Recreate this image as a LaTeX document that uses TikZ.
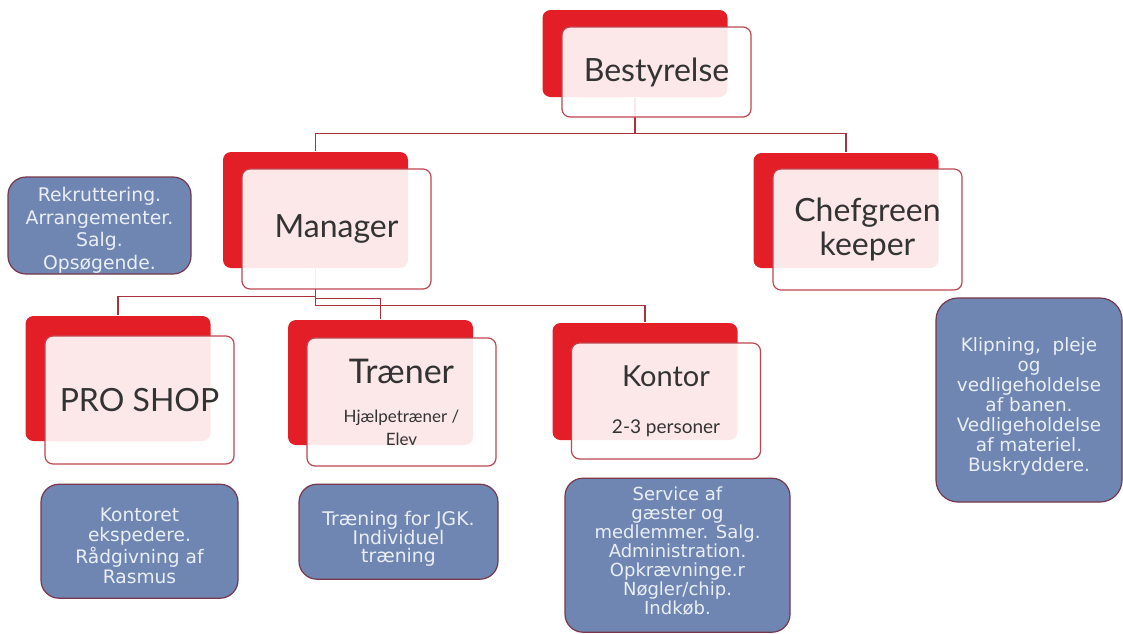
\documentclass[tikz,border=0pt]{standalone}
\usepackage{fontspec}
\setmainfont{Lato}
\newfontfamily\boxfont{DejaVu Sans}
\usetikzlibrary{positioning}

\definecolor{orgred}{RGB}{228,30,38}
\definecolor{edgered}{RGB}{190,70,80}
\definecolor{linkred}{RGB}{170,50,60}
\definecolor{infoblue}{RGB}{111,134,178}
\definecolor{infoedge}{RGB}{120,55,75}
\definecolor{infotext}{RGB}{234,238,246}

\begin{document}
\begin{tikzpicture}[x=0.5pt, y=-0.5pt,
back/.style={rectangle, rounded corners=4pt, fill=orgred,
minimum width=92.5pt, inner sep=0pt},
%
front/.style={rectangle, rounded corners=4pt, draw=edgered, fill=white,
fill opacity=0.9, text opacity=1, text=black!80, minimum width=94.5pt,
align=center, inner sep=0pt},
%
info/.style={rectangle, rounded corners=9pt, draw=infoedge, fill=infoblue,
text=infotext, align=center, inner sep=0pt},
%
link/.style ={draw=linkred}]

\tikzset{every path/.style={line width=.6pt}}

\useasboundingbox (0,0) rectangle (1123,633);

\begin{scope}
  %%%%%%%%%%%%%%%%%%%%%%%%%%%%%%
  \node [back, minimum height=43.5pt] (bestB) at (635,53.5) {};
  %%%%%%%%%%%%%%%%%%%%%%%%%%%%%%
  \node [back, minimum height=58pt] (manB) at (315.5,210) {};
  \node [back, minimum height=57.5pt] (chefB) at (846,210.5) {};
  %%%%%%%%%%%%%%%%%%%%%%%%%%%%%%
  \node [back, minimum height=62.5pt] (proB) at (118,378.5) {};
  \node [back, minimum height=62.5pt] (traB) at (380.5,382.5) {};
  \node [back, minimum height=58.5pt] (konB) at (645,381.5) {};
\end{scope}

\begin{scope}
  \draw [link] (bestB.south) -- ++(0,36) -| (manB.north);
  \draw [link] (bestB.south) -- ++(0,36) -| (chefB.north);
  \draw [link] (manB.south) -- ++(0,28) -| (proB.north);
  \draw [link] (manB.south) -- ++(0,30) -| (traB.north);
  \draw [link] (manB.south) -- ++(0,37) -| (konB.north);
\end{scope}

\begin{scope}
  %%%%%%%%%%%%%%%%%%%%%%%%%%%%%%
  \node [front, minimum height=45pt, font=\fontsize{16}{19}\selectfont]
  (bestF) at ([shift={(21.5,18.5)}]bestB) {Bestyrelse};
  %%%%%%%%%%%%%%%%%%%%%%%%%%%%%%
  \node [front, minimum height=60pt, font=\fontsize{16}{19}\selectfont]
  (manF) at ([shift={(21,19)}]manB) {Manager};
  \node [front, minimum height=60.5pt, font=\fontsize{16}{17}\selectfont]
  (chefF) at ([shift={(21.5,19)}]chefB) {Chefgreen\\keeper};
  %%%%%%%%%%%%%%%%%%%%%%%%%%%%%%
  \node [front, minimum height=64pt, font=\fontsize{16}{19}\selectfont]
  (proF) at ([shift={(21.5,21.5)}]proB) {PRO SHOP};
  \node [front, minimum height=64pt, font=\fontsize{8.5}{11.5}\selectfont]
  (traF) at ([shift={(21,19.5)}]traB)
  {{\fontsize{17}{17}\selectfont Træner}\\[8pt]Hjælpetræner /\\Elev};
  \node [front, minimum height=58pt, font=\fontsize{9.5}{11.5}\selectfont]
  (konF) at ([shift={(21,19.5)}]konB)
  {{\fontsize{14.5}{14.5}\selectfont Kontor}\\[12pt]2-3 personer};
\end{scope}

\begin{scope}
  \node [info, minimum width=91.5pt, minimum height=48.5pt,
  font=\boxfont\fontsize{9.4}{11.3}\selectfont] (manInfo) at (99.5,225.5)
  {\rule{0pt}{11.8pt}Rekruttering.\\Arrangementer.\\Salg.\\Opsøgende.};
  \node [info, rounded corners=11pt, minimum width=93pt, minimum height=102pt,
  font=\boxfont\fontsize{9.2}{10}\selectfont] (chefInfo) at (1029,400)
  {\rule{0pt}{13.8pt}Klipning,\ \ pleje\\og\\vedligeholdelse\\af
    banen.\\Vedligeholdelse\\af materiel.\\Buskryddere.};
  %%%%%%%%%%%%%%%%%%%%%%%%%%%%%%
  \node [info, minimum width=98.5pt, minimum height=57pt, below=9.5pt of proF,
  font=\boxfont\fontsize{9.3}{10}\selectfont] (proInfo)
  {\rule{0pt}{11.8pt}Kontoret\\ekspedere.\\Rådgivning af\\Rasmus};
  \node [info, minimum width=99.5pt, minimum height=47.5pt, below=8.5pt of traF,
  xshift=-1.5pt, font=\boxfont\fontsize{9.4}{9.2}\selectfont] (traInfo)
  {\rule{0pt}{14.6pt}Træning for JGK.\\Individuel\\træning};
  \node [info, minimum width=112.5pt, minimum height=77pt, below=9pt of konF,
  xshift=5.75pt, font=\boxfont\fontsize{9}{9.5}\selectfont] (konInfo)
  {Service af\\gæster og\\medlemmer. Salg.\\Administration.\\Opkrævninge.r\\Nøgler/chip.\\Indkøb.\rule[-5pt]{0pt}{5pt}};
\end{scope}

\end{tikzpicture}
\end{document}
